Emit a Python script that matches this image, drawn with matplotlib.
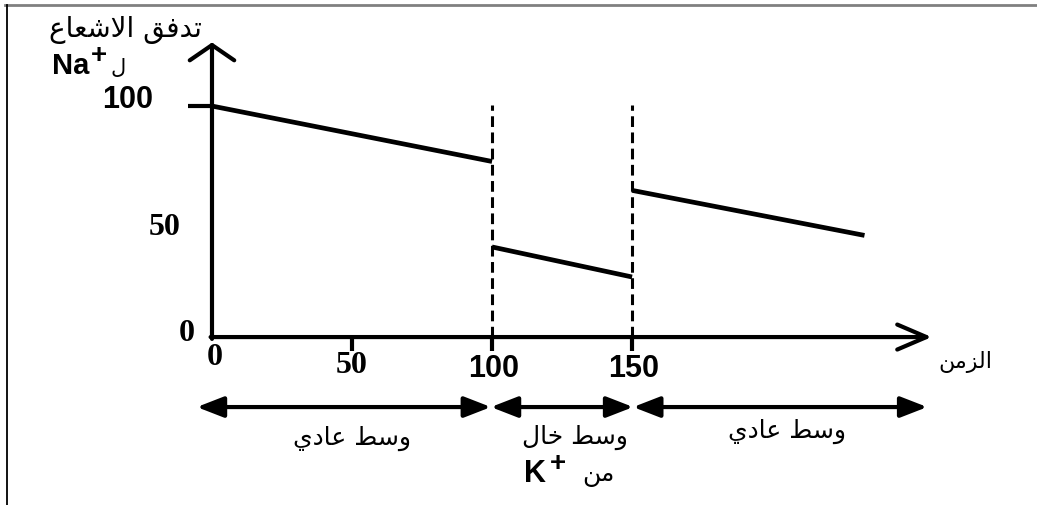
import matplotlib
matplotlib.use("Agg")
import matplotlib.pyplot as plt
from matplotlib.lines import Line2D

# Na+ flux vs time, three periods (normal / K+-free / normal)
time_seg1 = [0, 100]
flux_seg1 = [100, 76]
time_seg2 = [100, 150]
flux_seg2 = [39, 26]
time_seg3 = [150, 233]
flux_seg3 = [63.5, 44]

switch_times = [100, 150]
x_ticks = [50, 100, 150]
x_tick_labels = ["50", "100", "150"]
y_ticks = [50, 100]
y_tick_labels = ["50", "100"]
period_bounds = [-5.4, 99.6, 150.4, 255.4]
period_labels = ["وسط عادي", "وسط خال", "وسط عادي"]

y_title = "تدفق الاشعاع"
x_title = "الزمن"

# minimal Arabic shaping (presentation forms), since matplotlib does no shaping
FORMS = {
    'ا': ('\uFE8D', '\uFE8E', None, None),
    'ت': ('\uFE95', '\uFE96', '\uFE97', '\uFE98'),
    'خ': ('\uFEA5', '\uFEA6', '\uFEA7', '\uFEA8'),
    'د': ('\uFEA9', '\uFEAA', None, None),
    'ز': ('\uFEAF', '\uFEB0', None, None),
    'س': ('\uFEB1', '\uFEB2', '\uFEB3', '\uFEB4'),
    'ش': ('\uFEB5', '\uFEB6', '\uFEB7', '\uFEB8'),
    'ط': ('\uFEC1', '\uFEC2', '\uFEC3', '\uFEC4'),
    'ع': ('\uFEC9', '\uFECA', '\uFECB', '\uFECC'),
    'ف': ('\uFED1', '\uFED2', '\uFED3', '\uFED4'),
    'ق': ('\uFED5', '\uFED6', '\uFED7', '\uFED8'),
    'ل': ('\uFEDD', '\uFEDE', '\uFEDF', '\uFEE0'),
    'م': ('\uFEE1', '\uFEE2', '\uFEE3', '\uFEE4'),
    'ن': ('\uFEE5', '\uFEE6', '\uFEE7', '\uFEE8'),
    'و': ('\uFEED', '\uFEEE', None, None),
    'ي': ('\uFEF1', '\uFEF2', '\uFEF3', '\uFEF4'),
    'LA': ('\uFEFB', '\uFEFC', None, None),
}


def shape(text):
    toks = []
    i = 0
    while i < len(text):
        if text[i] == 'ل' and i + 1 < len(text) and text[i + 1] == 'ا':
            toks.append('LA')
            i += 2
        else:
            toks.append(text[i])
            i += 1
    out = []
    for k, t in enumerate(toks):
        if t not in FORMS:
            out.append(t)
            continue
        prev = toks[k - 1] if k > 0 else None
        nxt = toks[k + 1] if k + 1 < len(toks) else None
        jp = prev in FORMS and FORMS[prev][2] is not None
        jn = nxt in FORMS and FORMS[t][2] is not None
        iso, fin, ini, med = FORMS[t]
        if jp and jn:
            out.append(med)
        elif jp:
            out.append(fin)
        elif jn:
            out.append(ini)
        else:
            out.append(iso)
    return "".join(out)[::-1]


fig = plt.figure(figsize=(10.37, 5.05), dpi=100)
ax = fig.add_axes([0, 0, 1, 1])
ax.set_xlim(-75.7, 294.6)
ax.set_ylim(-72.7, 145.9)
ax.axis('off')

# frame pieces of the scanned page
fig.add_artist(Line2D([0.005, 1.0], [0.99, 0.99], color='#808080', lw=2, transform=fig.transFigure))
fig.add_artist(Line2D([0.0068, 0.0068], [0.0, 0.99], color='black', lw=1.3, transform=fig.transFigure))

lw_axis = 3.0
# axes with open arrow heads
ax.annotate('', xy=(0, 127.5), xytext=(0, -0.8),
            arrowprops=dict(arrowstyle='->, head_width=0.8, head_length=0.55', lw=lw_axis,
                            color='black', mutation_scale=20, shrinkA=0, shrinkB=0))
ax.annotate('', xy=(257, 0), xytext=(-0.5, 0),
            arrowprops=dict(arrowstyle='->, head_width=0.45, head_length=1.05', lw=lw_axis,
                            color='black', mutation_scale=20, shrinkA=0, shrinkB=0))

# ticks
for xt in x_ticks:
    ax.plot([xt, xt], [0, -6], color='black', lw=lw_axis, solid_capstyle='butt')
ax.plot([-8.6, 0], [100, 100], color='black', lw=lw_axis, solid_capstyle='butt')

# dashed switch lines
for st in switch_times:
    ax.plot([st, st], [0, 100.5], color='black', lw=2.2, linestyle=(0, (3.5, 1.8)))

# data
for xs, ys in [(time_seg1, flux_seg1), (time_seg2, flux_seg2), (time_seg3, flux_seg3)]:
    ax.plot(xs, ys, color='black', lw=3.4, solid_capstyle='butt')

# tick labels
num_sans = dict(family='Liberation Sans', fontweight='bold', fontsize=22, ha='center', va='center')
num_serif = dict(family='Liberation Serif', fontweight='bold', fontsize=23, ha='center', va='center')
ax.text(-30, 102.6, y_tick_labels[1], **num_sans)
ax.text(-17, 47.6, y_tick_labels[0], **num_serif)
ax.text(-8.9, 1.7, "0", **num_serif)
ax.text(1.1, -8.7, "0", **num_serif)
ax.text(x_ticks[0], -12.3, x_tick_labels[0], **num_serif)
for xt, lab in zip(x_ticks[1:], x_tick_labels[1:]):
    ax.text(xt + 0.5, -13.9, lab, **num_sans)

# axis titles
ar = dict(family='DejaVu Sans', ha='center', va='center')
ax.text(-31, 132.9, shape(y_title), fontsize=20, **ar)
ax.text(-50.4, 117.5, "Na", family='Liberation Sans', fontweight='bold', fontsize=21, ha='center', va='center')
ax.text(-40.3, 121.8, "+", family='Liberation Sans', fontweight='bold', fontsize=20, ha='center', va='center')
ax.text(-33.5, 116.5, shape("ل"), fontsize=15, **ar)
ax.text(269, -10.8, shape(x_title), fontsize=16, **ar)

# period arrows
for a, b in zip(period_bounds[:-1], period_bounds[1:]):
    ax.annotate('', xy=(b, -30.3), xytext=(a, -30.3),
                arrowprops=dict(arrowstyle='<|-|>, head_width=0.35, head_length=0.9', lw=3,
                                color='black', mutation_scale=18, shrinkA=0, shrinkB=0))

ax.text(50, -43.7, shape(period_labels[0]), fontsize=18, **ar)
ax.text(129.6, -43.3, shape(period_labels[1]), fontsize=18, **ar)
ax.text(205.4, -41, shape(period_labels[2]), fontsize=18, **ar)
ax.text(115.4, -59.2, "K", family='Liberation Sans', fontweight='bold', fontsize=22, ha='center', va='center')
ax.text(123.4, -55.0, "+", family='Liberation Sans', fontweight='bold', fontsize=20, ha='center', va='center')
ax.text(137.9, -59.7, shape("من"), fontsize=18, **ar)

fig.savefig("out.png", dpi=100, facecolor='white')
